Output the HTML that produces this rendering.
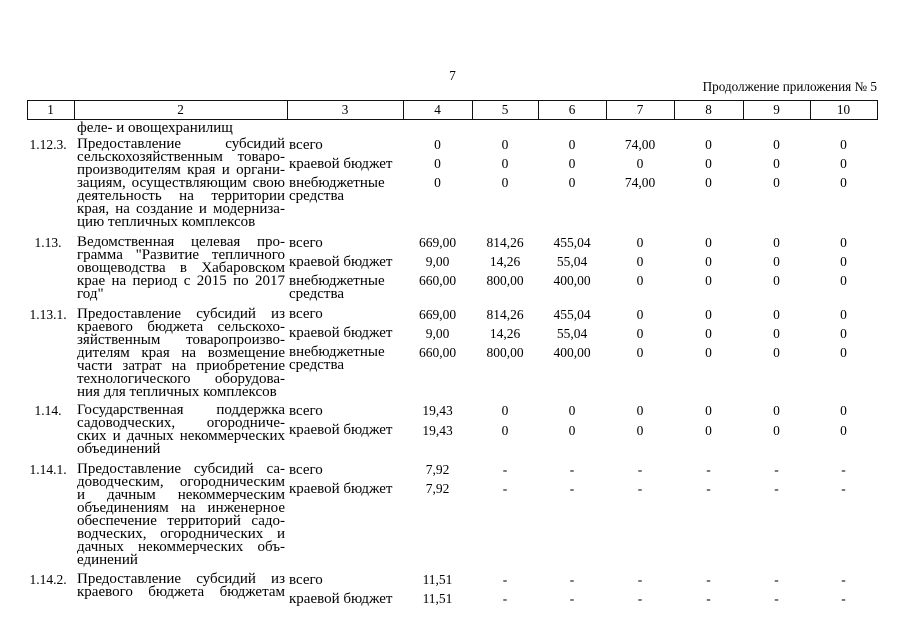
<!DOCTYPE html>
<html lang="ru">
<head>
<meta charset="utf-8">
<style>
  html,body{margin:0;padding:0;background:#fff;}
  body{width:905px;height:640px;position:relative;overflow:hidden;
       font-family:"Liberation Serif","Times New Roman",serif;font-size:13.2px;color:#000;}
  .a{position:absolute;line-height:12.6px;height:12.6px;white-space:nowrap;}
  .hl{position:absolute;height:1px;background:#111;}
  .vl{position:absolute;width:1px;background:#111;top:100px;height:20px;}
  .b{position:absolute;left:0;width:905px;height:10px;}
  .n{position:absolute;left:25px;width:46px;text-align:center;line-height:12.6px;white-space:nowrap;top:0;font-size:13.5px;}
  .c2{position:absolute;left:77px;width:208px;top:-0.8px;font-size:15px;}
  .c2 .j{display:flex;justify-content:space-between;height:13px;line-height:13px;white-space:nowrap;}
  .c2 .l{height:13px;line-height:13px;white-space:nowrap;}
  .c3{position:absolute;left:289px;line-height:12.6px;white-space:nowrap;font-size:15px;margin-top:-0.6px;}
  .r{position:absolute;left:403px;width:474px;display:grid;font-size:13.5px;
     grid-template-columns:69px 66px 68px 68px 69px 67px 67px;text-align:center;line-height:12.6px;white-space:nowrap;}
  .hdr{position:absolute;left:27px;top:104.2px;width:850px;display:grid;
     grid-template-columns:47px 213px 116px 69px 66px 68px 68px 69px 67px 67px;text-align:center;line-height:12.6px;}
</style>
</head>
<body>

<div class="a" style="left:440px;width:25px;text-align:center;top:69.7px;">7</div>
<div class="a" style="left:600px;width:277px;text-align:right;top:80.8px;">Продолжение приложения № 5</div>

<!-- header table lines -->
<div class="hl" style="left:27px;width:851px;top:100px;"></div>
<div class="hl" style="left:27px;width:851px;top:119px;"></div>
<div class="vl" style="left:27px;"></div>
<div class="vl" style="left:74px;"></div>
<div class="vl" style="left:287px;"></div>
<div class="vl" style="left:403px;"></div>
<div class="vl" style="left:472px;"></div>
<div class="vl" style="left:538px;"></div>
<div class="vl" style="left:606px;"></div>
<div class="vl" style="left:674px;"></div>
<div class="vl" style="left:743px;"></div>
<div class="vl" style="left:810px;"></div>
<div class="vl" style="left:877px;"></div>
<div class="hdr"><span>1</span><span>2</span><span>3</span><span>4</span><span>5</span><span>6</span><span>7</span><span>8</span><span>9</span><span>10</span></div>

<!-- continuation line -->
<div class="a" style="left:77px;top:122.3px;font-size:15px;">феле- и овощехранилищ</div>

<!-- 1.12.3 -->
<div class="b" style="top:139.2px;">
  <div class="n">1.12.3.</div>
  <div class="c2">
    <div class="j"><span>Предоставление</span><span>субсидий</span></div>
    <div class="j"><span>сельскохозяйственным</span><span>товаро-</span></div>
    <div class="j"><span>производителям</span><span>края</span><span>и</span><span>органи-</span></div>
    <div class="j"><span>зациям,</span><span>осуществляющим</span><span>свою</span></div>
    <div class="j"><span>деятельность</span><span>на</span><span>территории</span></div>
    <div class="j"><span>края,</span><span>на</span><span>создание</span><span>и</span><span>модерниза-</span></div>
    <div class="l">цию тепличных комплексов</div>
  </div>
  <div class="c3" style="top:0;">всего</div>
  <div class="c3" style="top:19.2px;">краевой бюджет</div>
  <div class="c3" style="top:38px;">внебюджетные</div>
  <div class="c3" style="top:51px;">средства</div>
  <div class="r" style="top:0;"><span>0</span><span>0</span><span>0</span><span>74,00</span><span>0</span><span>0</span><span>0</span></div>
  <div class="r" style="top:19.2px;"><span>0</span><span>0</span><span>0</span><span>0</span><span>0</span><span>0</span><span>0</span></div>
  <div class="r" style="top:38px;"><span>0</span><span>0</span><span>0</span><span>74,00</span><span>0</span><span>0</span><span>0</span></div>
</div>

<!-- 1.13 -->
<div class="b" style="top:237.2px;">
  <div class="n">1.13.</div>
  <div class="c2">
    <div class="j"><span>Ведомственная</span><span>целевая</span><span>про-</span></div>
    <div class="j"><span>грамма</span><span>"Развитие</span><span>тепличного</span></div>
    <div class="j"><span>овощеводства</span><span>в</span><span>Хабаровском</span></div>
    <div class="j"><span>крае</span><span>на</span><span>период</span><span>с</span><span>2015</span><span>по</span><span>2017</span></div>
    <div class="l">год"</div>
  </div>
  <div class="c3" style="top:0;">всего</div>
  <div class="c3" style="top:19.2px;">краевой бюджет</div>
  <div class="c3" style="top:38px;">внебюджетные</div>
  <div class="c3" style="top:51px;">средства</div>
  <div class="r" style="top:0;"><span>669,00</span><span>814,26</span><span>455,04</span><span>0</span><span>0</span><span>0</span><span>0</span></div>
  <div class="r" style="top:19.2px;"><span>9,00</span><span>14,26</span><span>55,04</span><span>0</span><span>0</span><span>0</span><span>0</span></div>
  <div class="r" style="top:38px;"><span>660,00</span><span>800,00</span><span>400,00</span><span>0</span><span>0</span><span>0</span><span>0</span></div>
</div>

<!-- 1.13.1 -->
<div class="b" style="top:308.7px;">
  <div class="n">1.13.1.</div>
  <div class="c2">
    <div class="j"><span>Предоставление</span><span>субсидий</span><span>из</span></div>
    <div class="j"><span>краевого</span><span>бюджета</span><span>сельскохо-</span></div>
    <div class="j"><span>зяйственным</span><span>товаропроизво-</span></div>
    <div class="j"><span>дителям</span><span>края</span><span>на</span><span>возмещение</span></div>
    <div class="j"><span>части</span><span>затрат</span><span>на</span><span>приобретение</span></div>
    <div class="j"><span>технологического</span><span>оборудова-</span></div>
    <div class="l">ния для тепличных комплексов</div>
  </div>
  <div class="c3" style="top:0;">всего</div>
  <div class="c3" style="top:19.2px;">краевой бюджет</div>
  <div class="c3" style="top:38px;">внебюджетные</div>
  <div class="c3" style="top:51px;">средства</div>
  <div class="r" style="top:0;"><span>669,00</span><span>814,26</span><span>455,04</span><span>0</span><span>0</span><span>0</span><span>0</span></div>
  <div class="r" style="top:19.2px;"><span>9,00</span><span>14,26</span><span>55,04</span><span>0</span><span>0</span><span>0</span><span>0</span></div>
  <div class="r" style="top:38px;"><span>660,00</span><span>800,00</span><span>400,00</span><span>0</span><span>0</span><span>0</span><span>0</span></div>
</div>

<!-- 1.14 -->
<div class="b" style="top:405.2px;">
  <div class="n">1.14.</div>
  <div class="c2">
    <div class="j"><span>Государственная</span><span>поддержка</span></div>
    <div class="j"><span>садоводческих,</span><span>огородниче-</span></div>
    <div class="j"><span>ских</span><span>и</span><span>дачных</span><span>некоммерческих</span></div>
    <div class="l">объединений</div>
  </div>
  <div class="c3" style="top:0;">всего</div>
  <div class="c3" style="top:19.5px;">краевой бюджет</div>
  <div class="r" style="top:0;"><span>19,43</span><span>0</span><span>0</span><span>0</span><span>0</span><span>0</span><span>0</span></div>
  <div class="r" style="top:19.5px;"><span>19,43</span><span>0</span><span>0</span><span>0</span><span>0</span><span>0</span><span>0</span></div>
</div>

<!-- 1.14.1 -->
<div class="b" style="top:464.2px;">
  <div class="n">1.14.1.</div>
  <div class="c2">
    <div class="j"><span>Предоставление</span><span>субсидий</span><span>са-</span></div>
    <div class="j"><span>доводческим,</span><span>огородническим</span></div>
    <div class="j"><span>и</span><span>дачным</span><span>некоммерческим</span></div>
    <div class="j"><span>объединениям</span><span>на</span><span>инженерное</span></div>
    <div class="j"><span>обеспечение</span><span>территорий</span><span>садо-</span></div>
    <div class="j"><span>водческих,</span><span>огороднических</span><span>и</span></div>
    <div class="j"><span>дачных</span><span>некоммерческих</span><span>объ-</span></div>
    <div class="l">единений</div>
  </div>
  <div class="c3" style="top:0;">всего</div>
  <div class="c3" style="top:19.2px;">краевой бюджет</div>
  <div class="r" style="top:0;"><span>7,92</span><span>-</span><span>-</span><span>-</span><span>-</span><span>-</span><span>-</span></div>
  <div class="r" style="top:19.2px;"><span>7,92</span><span>-</span><span>-</span><span>-</span><span>-</span><span>-</span><span>-</span></div>
</div>

<!-- 1.14.2 -->
<div class="b" style="top:574.2px;">
  <div class="n">1.14.2.</div>
  <div class="c2">
    <div class="j"><span>Предоставление</span><span>субсидий</span><span>из</span></div>
    <div class="j"><span>краевого</span><span>бюджета</span><span>бюджетам</span></div>
  </div>
  <div class="c3" style="top:0;">всего</div>
  <div class="c3" style="top:19.2px;">краевой бюджет</div>
  <div class="r" style="top:0;"><span>11,51</span><span>-</span><span>-</span><span>-</span><span>-</span><span>-</span><span>-</span></div>
  <div class="r" style="top:19.2px;"><span>11,51</span><span>-</span><span>-</span><span>-</span><span>-</span><span>-</span><span>-</span></div>
</div>

</body>
</html>
